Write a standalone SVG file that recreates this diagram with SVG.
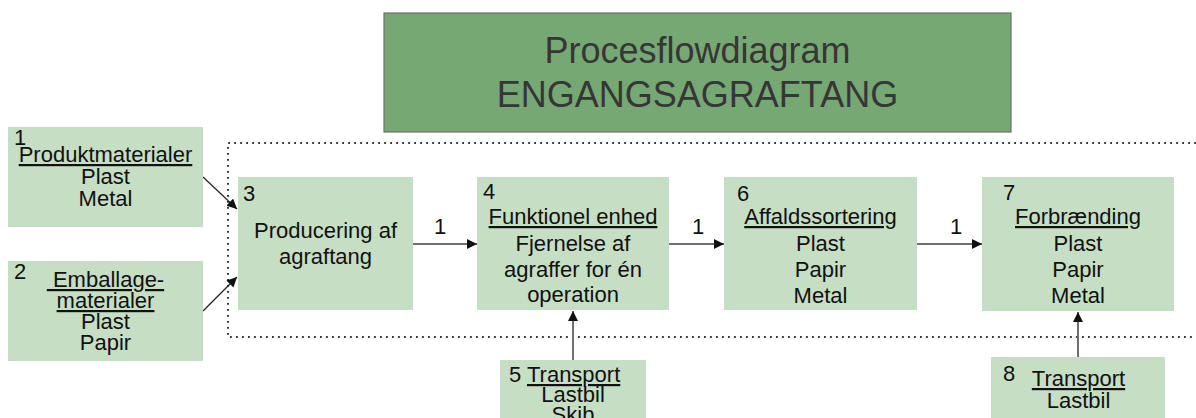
<svg xmlns="http://www.w3.org/2000/svg" width="1196" height="418" viewBox="0 0 1196 418">
  <style>
    .box { fill: #c6dec3; }
    .title-box { fill: #76a874; stroke: #6e6e6e; stroke-width: 1.2; }
    .title { font-family: "Liberation Sans", Arial, sans-serif; font-size: 36px; fill: #363636; text-anchor: middle; }
    .t { font-family: "Liberation Sans", Arial, sans-serif; font-size: 22px; fill: #111; }
    .c { text-anchor: middle; }
    .u { text-decoration: underline; }
    .flow { stroke: #6f6f6f; stroke-width: 2; fill: none; }
    .thin { stroke: #222; stroke-width: 1.2; fill: none; }
    .boundary { stroke: #333; stroke-width: 2; fill: none; stroke-dasharray: 1.8 4.2; }
  </style>
  <defs>
    <marker id="arrow" viewBox="0 0 10 10" refX="10" refY="5" markerWidth="10" markerHeight="10" markerUnits="userSpaceOnUse" orient="auto">
      <path d="M0,0 L10,5 L0,10 Z" fill="#111"/>
    </marker>
  </defs>

  <rect width="1196" height="418" fill="#ffffff"/>

  <!-- system boundary (open to the right) -->
  <path class="boundary" d="M1196,143 H228 V337 H1196"/>

  <!-- title -->
  <g id="title">
    <rect class="title-box" x="384" y="13" width="627" height="119"/>
    <text class="title" x="697.5" y="63">Procesflowdiagram</text>
    <text class="title" x="697.5" y="107">ENGANGSAGRAFTANG</text>
  </g>

  <!-- connectors -->
  <g id="connectors">
    <line class="thin" x1="203" y1="177" x2="237" y2="209" marker-end="url(#arrow)"/>
    <line class="thin" x1="203" y1="311" x2="237" y2="277" marker-end="url(#arrow)"/>
    <line class="flow" x1="413" y1="244" x2="477" y2="244" marker-end="url(#arrow)"/>
    <line class="flow" x1="669" y1="244" x2="724" y2="244" marker-end="url(#arrow)"/>
    <line class="flow" x1="917" y1="244" x2="982" y2="244" marker-end="url(#arrow)"/>
    <line class="flow" x1="573" y1="360" x2="573" y2="311" marker-end="url(#arrow)"/>
    <line class="flow" x1="1078" y1="357" x2="1078" y2="312" marker-end="url(#arrow)"/>
    <text class="t c" x="440" y="234">1</text>
    <text class="t c" x="698" y="234">1</text>
    <text class="t c" x="956" y="234">1</text>
  </g>

  <!-- 1: product materials -->
  <g id="node1">
    <rect class="box" x="8" y="127" width="195" height="100"/>
    <text class="t" x="14" y="145">1</text>
    <text class="t c u" x="105.5" y="162">Produktmaterialer</text>
    <text class="t c" x="105.5" y="184">Plast</text>
    <text class="t c" x="105.5" y="206">Metal</text>
  </g>

  <!-- 2: packaging materials -->
  <g id="node2">
    <rect class="box" x="8" y="261" width="195" height="100"/>
    <text class="t" x="14" y="279">2</text>
    <text class="t c u" x="105.5" y="287" style="white-space:pre"> Emballage-</text>
    <text class="t c u" x="105.5" y="308">materialer</text>
    <text class="t c" x="105.5" y="329">Plast</text>
    <text class="t c" x="105.5" y="350">Papir</text>
  </g>

  <!-- 3: production -->
  <g id="node3">
    <rect class="box" x="238" y="177" width="175" height="133"/>
    <text class="t" x="243" y="201">3</text>
    <text class="t c" x="325.5" y="238">Producering af</text>
    <text class="t c" x="325.5" y="264">agraftang</text>
  </g>

  <!-- 4: functional unit -->
  <g id="node4">
    <rect class="box" x="477" y="177" width="192" height="133"/>
    <text class="t" x="483" y="199">4</text>
    <text class="t c u" x="573" y="224">Funktionel enhed</text>
    <text class="t c" x="573" y="251">Fjernelse af</text>
    <text class="t c" x="573" y="277">agraffer for én</text>
    <text class="t c" x="573" y="302">operation</text>
  </g>

  <!-- 5: transport -->
  <g id="node5">
    <rect class="box" x="500" y="360" width="146" height="70"/>
    <text class="t" x="509" y="382">5 <tspan class="u">Transport</tspan></text>
    <text class="t c" x="573" y="402">Lastbil</text>
    <text class="t c" x="573" y="422">Skib</text>
  </g>

  <!-- 6: waste sorting -->
  <g id="node6">
    <rect class="box" x="724" y="177" width="193" height="133"/>
    <text class="t" x="737" y="201">6</text>
    <text class="t c u" x="820.5" y="224">Affaldssortering</text>
    <text class="t c" x="820.5" y="251">Plast</text>
    <text class="t c" x="820.5" y="277">Papir</text>
    <text class="t c" x="820.5" y="303">Metal</text>
  </g>

  <!-- 7: incineration -->
  <g id="node7">
    <rect class="box" x="982" y="177" width="192" height="134"/>
    <text class="t" x="1003" y="200">7</text>
    <text class="t c u" x="1078" y="224">Forbrænding</text>
    <text class="t c" x="1078" y="251">Plast</text>
    <text class="t c" x="1078" y="277">Papir</text>
    <text class="t c" x="1078" y="303">Metal</text>
  </g>

  <!-- 8: transport -->
  <g id="node8">
    <rect class="box" x="991" y="357" width="174" height="70"/>
    <text class="t" x="1003" y="381">8</text>
    <text class="t c u" x="1078.5" y="386">Transport</text>
    <text class="t c" x="1078.5" y="408">Lastbil</text>
  </g>
</svg>
